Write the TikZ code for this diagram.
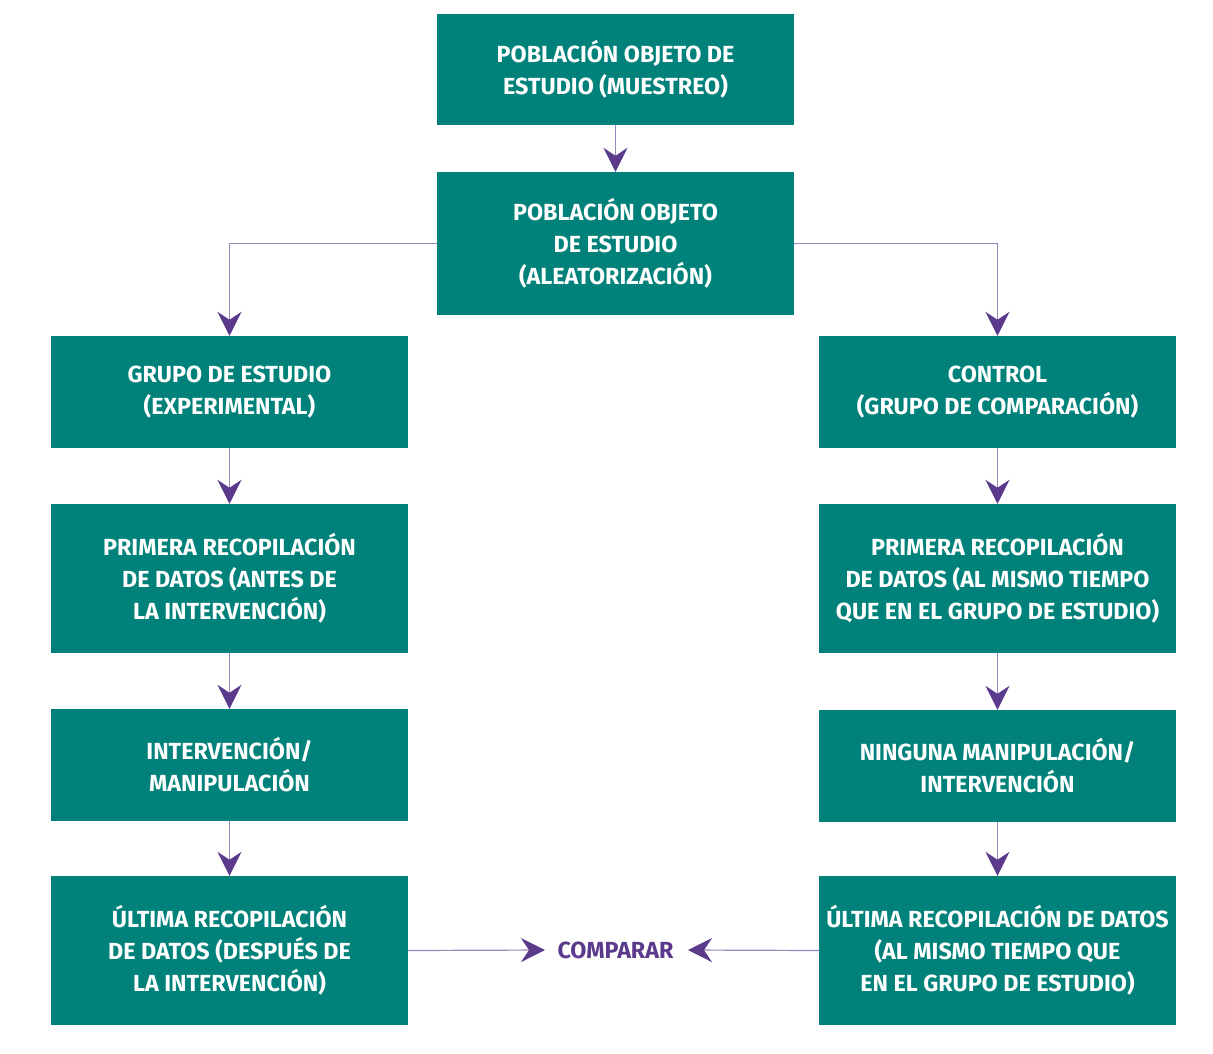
\documentclass[tikz,border=0pt]{standalone}
\usepackage{fontspec}
\setmainfont{Fira Sans}
\usetikzlibrary{arrows.meta}
\definecolor{teal1}{HTML}{00827A}
\definecolor{purp}{HTML}{5B3A8C}
\definecolor{purpl}{HTML}{9B86BE}
\begin{document}
\begin{tikzpicture}[x=1pt,y=-1pt,
  box/.style={fill=teal1,text=white,inner sep=0pt,minimum width=357pt,align=center,font=\bfseries\fontsize{23.3}{32}\selectfont},
  conn/.style={draw=purpl,line width=1.2pt,-{Stealth[length=24pt,width=24pt,inset=8pt,color=purp,fill=purp]}}]
\useasboundingbox (0,0) rectangle (1213,1053);
\node[box,minimum height=111pt] (b1) at (615.5,69.5) {POBLACIÓN OBJETO DE\\ESTUDIO (MUESTREO)};
\node[box,minimum height=143pt] (b2) at (615.5,243.5) {POBLACIÓN OBJETO\\DE ESTUDIO\\(ALEATORIZACIÓN)};
\node[box,minimum height=112pt] (l1) at (229.5,392) {GRUPO DE ESTUDIO\\(EXPERIMENTAL)};
\node[box,minimum height=149pt] (l2) at (229.5,578.5) {PRIMERA RECOPILACIÓN\\DE DATOS (ANTES DE\\LA INTERVENCIÓN)};
\node[box,minimum height=112pt] (l3) at (229.5,765) {INTERVENCIÓN/\\MANIPULACIÓN};
\node[box,minimum height=149pt] (l4) at (229.5,950.5) {ÚLTIMA RECOPILACIÓN\\DE DATOS (DESPUÉS DE\\LA INTERVENCIÓN)};
\node[box,minimum height=112pt] (r1) at (997.5,392) {CONTROL\\(GRUPO DE COMPARACIÓN)};
\node[box,minimum height=149pt] (r2) at (997.5,578.5) {PRIMERA RECOPILACIÓN\\DE DATOS (AL MISMO TIEMPO\\QUE EN EL GRUPO DE ESTUDIO)};
\node[box,minimum height=112pt] (r3) at (997.5,766) {NINGUNA MANIPULACIÓN/\\INTERVENCIÓN};
\node[box,minimum height=149pt] (r4) at (997.5,950.5) {ÚLTIMA RECOPILACIÓN DE DATOS\\(AL MISMO TIEMPO QUE\\EN EL GRUPO DE ESTUDIO)};
\node[text=purp,font=\bfseries\fontsize{23.3}{24}\selectfont,inner sep=0pt] (cmp) at (615.5,950) {COMPARAR};
\coordinate (cl) at (545,950);
\coordinate (cr) at (688,950);
\draw[conn] (b1) -- (b2);
\draw[conn] (b2.west) -| (l1.north);
\draw[conn] (b2.east) -| (r1.north);
\draw[conn] (l1) -- (l2);
\draw[conn] (l2) -- (l3);
\draw[conn] (l3) -- (l4);
\draw[conn] (r1) -- (r2);
\draw[conn] (r2) -- (r3);
\draw[conn] (r3) -- (r4);
\draw[conn] (l4.east) -- (cl);
\draw[conn] (r4.west) -- (cr);
\end{tikzpicture}
\end{document}
